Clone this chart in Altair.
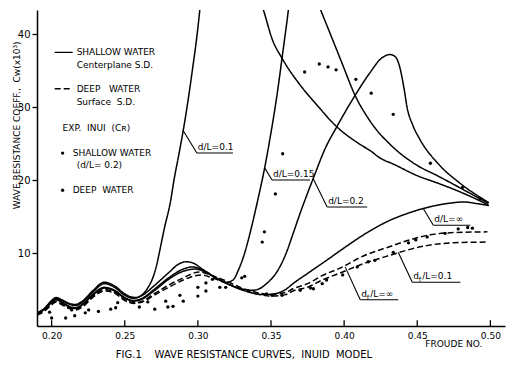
import altair as alt
import pandas as pd

NB = "\u00a0"

# ---------------- data ----------------
x_ticks = [0.20, 0.25, 0.30, 0.35, 0.40, 0.45, 0.50]
y_ticks = [10, 20, 30, 40]

# common low-Froude part (humps 1 and 2)
lowF = [0.19, 0.195, 0.200, 0.203, 0.207, 0.212, 0.216, 0.221, 0.228, 0.236, 0.243, 0.250]

# Shallow water, centerplane S.D. (solid)
dl01_F = lowF + [0.254, 0.258, 0.262, 0.266, 0.269, 0.272, 0.274, 0.277, 0.2815, 0.2835, 0.287, 0.290, 0.2955, 0.3014, 0.303]
dl01_v = [1.8, 2.4, 3.5, 3.9, 3.6, 3.1, 2.95, 3.4, 4.8, 6.0, 5.5, 4.4] + \
         [4.0, 3.9, 4.3, 5.3, 6.5, 8.5, 10.4, 13.3, 17.3, 19.8, 23.5, 26.8, 34.0, 43.5, 47.0]

dl015_F = lowF + [0.256, 0.262, 0.270, 0.280, 0.287, 0.292, 0.297, 0.303, 0.310, 0.316, 0.320, 0.324, 0.328,
                  0.332, 0.336, 0.341, 0.345, 0.350, 0.354, 0.358, 0.362, 0.364]
dl015_v = [1.8, 2.35, 3.4, 3.8, 3.5, 3.0, 2.8, 3.25, 4.6, 5.8, 5.3, 4.2] + \
          [3.8, 4.2, 5.5, 7.3, 8.5, 8.8, 8.6, 7.8, 6.9, 6.2, 6.0, 6.3, 7.8,
           10.0, 13.0, 17.3, 21.0, 26.5, 31.5, 37.4, 43.5, 47.0]

dl02_F = lowF + [0.256, 0.262, 0.270, 0.280, 0.290, 0.296, 0.302, 0.310, 0.318, 0.325, 0.332, 0.338, 0.342,
                 0.348, 0.354, 0.360, 0.365, 0.370, 0.375, 0.380, 0.387, 0.395, 0.4075, 0.418, 0.425, 0.4315,
                 0.435, 0.438, 0.441, 0.443, 0.447, 0.452, 0.464, 0.479, 0.499]
dl02_v = [1.7, 2.3, 3.3, 3.7, 3.3, 2.7, 2.5, 3.0, 4.3, 5.3, 4.9, 3.9] + \
         [3.5, 3.8, 5.0, 6.6, 7.8, 8.1, 7.8, 6.9, 6.0, 5.4, 5.0, 4.9, 5.1,
          6.0, 7.4, 9.8, 12.6, 15.5, 18.2, 20.8, 24.3, 27.3, 31.6, 34.8, 36.6, 37.2,
          36.9, 35.5, 32.5, 30.0, 27.5, 25.5, 22.3, 19.6, 16.9]

dlinf_F = lowF + [0.256, 0.262, 0.270, 0.280, 0.290, 0.298, 0.305, 0.312, 0.320, 0.328, 0.336, 0.344, 0.352,
                  0.360, 0.365, 0.375, 0.388, 0.400, 0.411, 0.420, 0.4315, 0.443, 0.454, 0.465, 0.475,
                  0.4815, 0.490, 0.499]
dlinf_v = [1.7, 2.25, 3.2, 3.6, 3.2, 2.6, 2.4, 2.9, 4.2, 5.2, 4.8, 3.8] + \
          [3.4, 3.7, 4.8, 6.4, 7.5, 7.8, 7.4, 6.6, 5.8, 5.1, 4.6, 4.3, 4.4,
           5.0, 5.8, 7.2, 9.0, 10.7, 12.2, 13.3, 14.5, 15.4, 16.1, 16.6, 16.9,
           17.0, 16.8, 16.5]

# supercritical branches (coming down from the top)
brA_F = [0.340, 0.3445, 0.351, 0.3575, 0.370, 0.380, 0.395, 0.410, 0.418, 0.4247, 0.4335, 0.450, 0.4637, 0.479, 0.4986]
brA_v = [46.0, 43.5, 39.2, 36.7, 33.0, 30.6, 27.3, 25.0, 24.0, 23.0, 22.2, 20.6, 19.6, 18.4, 16.6]

brB_F = [0.379, 0.3836, 0.390, 0.398, 0.4075, 0.418, 0.4335, 0.450, 0.4637, 0.485, 0.4986]
brB_v = [46.0, 43.5, 40.3, 36.3, 31.6, 28.0, 24.5, 22.0, 20.6, 18.3, 16.8]

# Deep water, surface S.D. (dashed)
dfinf_F = lowF + [0.256, 0.262, 0.270, 0.280, 0.290, 0.301, 0.310, 0.320, 0.330, 0.340, 0.350, 0.360, 0.365,
                  0.375, 0.385, 0.399, 0.410, 0.4315, 0.445, 0.459, 0.475, 0.498]
dfinf_v = [1.6, 2.1, 3.0, 3.4, 3.0, 2.5, 2.3, 2.7, 4.0, 5.0, 4.6, 3.6] + \
          [3.2, 3.4, 4.4, 5.6, 6.6, 7.4, 6.9, 6.1, 5.2, 4.6, 4.3, 4.6, 5.1,
           5.8, 6.9, 8.1, 9.3, 10.9, 11.8, 12.5, 12.8, 12.9]

df01_F = lowF + [0.256, 0.262, 0.270, 0.280, 0.290, 0.302, 0.310, 0.320, 0.330, 0.340, 0.350, 0.360, 0.365,
                 0.375, 0.385, 0.399, 0.410, 0.4315, 0.445, 0.459, 0.475, 0.498]
df01_v = [1.5, 2.0, 2.9, 3.3, 2.9, 2.4, 2.2, 2.6, 3.9, 4.8, 4.5, 3.5] + \
         [3.1, 3.3, 4.2, 5.3, 6.3, 7.0, 6.6, 5.8, 5.0, 4.4, 4.1, 4.3, 4.8,
          5.3, 6.3, 7.4, 8.3, 9.7, 10.5, 11.1, 11.4, 11.5]

# Experiments (Inui)
shallow_F = [0.330, 0.332, 0.344, 0.3455, 0.353, 0.358, 0.373, 0.383, 0.389, 0.3945, 0.408, 0.4185,
             0.4336, 0.459, 0.481, 0.493]
shallow_v = [6.6, 6.8, 11.5, 12.9, 18.1, 23.6, 34.8, 35.9, 35.5, 35.1, 33.8, 31.9,
             29.0, 22.3, 19.0, 17.4]

deep_F = [0.1986, 0.200, 0.2096, 0.2137, 0.2158, 0.223, 0.2253, 0.232, 0.2404, 0.2438, 0.2452, 0.260,
          0.2658, 0.2705, 0.278, 0.2795, 0.283, 0.2877, 0.290, 0.300, 0.300, 0.3055, 0.3055, 0.310,
          0.315, 0.319, 0.347, 0.3507, 0.3575, 0.370, 0.377, 0.379, 0.385, 0.388, 0.399, 0.409,
          0.4165, 0.421, 0.4336, 0.444, 0.449, 0.4568, 0.469, 0.478, 0.4845, 0.4877]
deep_v = [1.9, 1.1, 1.1, 2.2, 1.4, 1.8, 2.2, 2.0, 2.3, 2.5, 3.2, 2.6,
          3.3, 2.3, 3.4, 2.6, 2.7, 4.2, 3.4, 5.3, 4.1, 5.9, 4.8, 6.4,
          5.3, 5.3, 4.4, 4.2, 4.2, 4.9, 5.2, 5.1, 5.8, 6.3, 7.0, 8.1,
          8.8, 9.0, 10.1, 11.4, 11.8, 12.2, 12.7, 13.3, 13.5, 13.4]

# curve labels (text position, leader line start -> elbow -> underline end)
lab_text = ["d/L=0.1", "d/L=0.15", "d/L=0.2", "d/L=\u221e"]
lab_F = [0.2993, 0.3507, 0.3884, 0.461]
lab_v = [23.7, 20.0, 16.3, 13.8]
lab_F0 = [0.2897, 0.3459, 0.3788, 0.4541]
lab_v0 = [26.85, 21.6, 20.2, 16.1]
lab_Fend = [0.324, 0.3767, 0.4158, 0.4863]

flab_text = ["/L=0.1", "/L=\u221e"]
flab_F = [0.4466, 0.411]
flab_v = [6.0, 3.6]
flab_F0 = [0.437, 0.4007]
flab_v0 = [10.1, 8.1]
flab_Fend = [0.4795, 0.437]

# legend
leg_text = ["SHALLOW" + NB + "WATER", "Centerplane S.D.", "DEEP" + NB * 3 + "WATER", "Surface" + NB * 2 + "S.D.",
            "EXP." + NB * 2 + "INUI" + NB * 2 + "(C\u0280)", "SHALLOW" + NB + "WATER",
            "(d/L=" + NB + "0.2)", "DEEP" + NB * 2 + "WATER"]
leg_F = [0.2171, 0.2171, 0.2171, 0.2171, 0.2075, 0.2144, 0.2171, 0.2144]
leg_v = [37.5, 35.75, 32.5, 30.7, 27.1, 23.7, 22.05, 18.6]
leg_line_kind = ["solid", "dashed"]
leg_line_v = [37.5, 32.5]
leg_dot_v = [23.7, 18.6]

# ---------------- build tables ----------------
def curve(name, kind, F, v):
    return pd.DataFrame({"F": F, "v": v, "series": name, "kind": kind, "order": range(len(F))})

lines = pd.concat([
    curve("dl01", "solid", dl01_F, dl01_v),
    curve("dl015", "solid", dl015_F, dl015_v),
    curve("dl02", "solid", dl02_F, dl02_v),
    curve("dlinf", "solid", dlinf_F, dlinf_v),
    curve("brA", "solid", brA_F, brA_v),
    curve("brB", "solid", brB_F, brB_v),
    curve("dfinf", "dashed", dfinf_F, dfinf_v),
    curve("df01", "dashed", df01_F, df01_v),
], ignore_index=True)

pts = pd.concat([
    pd.DataFrame({"F": shallow_F, "v": shallow_v, "set": "shallow"}),
    pd.DataFrame({"F": deep_F, "v": deep_v, "set": "deep"}),
], ignore_index=True)

FONT = "DejaVu Sans"
xs = alt.Scale(domain=[0.19, 0.51], nice=False, zero=False)
ys = alt.Scale(domain=[0, 43.3], nice=False)

base_x = alt.X("F:Q", scale=xs,
               axis=alt.Axis(values=x_ticks, format=".2f", title=None, ticks=False,
                             labelPadding=5, labelFontSize=9, labelFont=FONT, labelColor="black",
                             domainColor="black", domainWidth=1.5, grid=False))
base_y = alt.Y("v:Q", scale=ys,
               axis=alt.Axis(values=y_ticks, format="d", title=None, tickSize=5, tickColor="black",
                             tickWidth=1.3, labelPadding=2, labelFontSize=10, labelFont=FONT,
                             labelColor="black", domainColor="black", domainWidth=1.5, grid=False))

curves = alt.Chart(lines).mark_line(clip=True, interpolate="monotone", color="black", strokeWidth=1.5).encode(
    x=base_x, y=base_y,
    detail="series:N",
    order="order:Q",
    strokeDash=alt.StrokeDash("kind:N", scale=alt.Scale(domain=["solid", "dashed"], range=[[1, 0], [6, 3]]),
                              legend=None),
)

points = alt.Chart(pts).mark_circle(size=11, color="black", opacity=1, clip=True).encode(
    x=alt.X("F:Q", scale=xs), y=alt.Y("v:Q", scale=ys))

tick_df = pd.DataFrame({"F": x_ticks, "y0": [0] * len(x_ticks), "y1": [0.8] * len(x_ticks)})
xtick_marks = alt.Chart(tick_df).mark_rule(color="black", strokeWidth=1.3).encode(
    x=alt.X("F:Q", scale=xs), y=alt.Y("y0:Q", scale=ys), y2="y1:Q")

# curve labels
lab_df = pd.DataFrame({"F0": lab_F0, "v0": lab_v0, "F": lab_F, "v": lab_v, "Fe": lab_Fend, "text": lab_text})
flab_df = pd.DataFrame({"F0": flab_F0, "v0": flab_v0, "F": flab_F, "v": flab_v, "Fe": flab_Fend, "text": flab_text})
all_lab = pd.concat([lab_df, flab_df], ignore_index=True)

leader = alt.Chart(all_lab).mark_rule(color="black", strokeWidth=1.1).encode(
    x=alt.X("F0:Q", scale=xs), y=alt.Y("v0:Q", scale=ys), x2="F:Q", y2="v:Q")
underline = alt.Chart(all_lab).mark_rule(color="black", strokeWidth=1.1).encode(
    x=alt.X("F:Q", scale=xs), y=alt.Y("v:Q", scale=ys), x2="Fe:Q")
lab_txt = alt.Chart(lab_df).mark_text(align="left", baseline="bottom", dx=1, dy=-1, font=FONT,
                                      fontSize=9, color="black").encode(
    x=alt.X("F:Q", scale=xs), y=alt.Y("v:Q", scale=ys), text="text:N")
flab_d = alt.Chart(flab_df).mark_text(align="left", baseline="bottom", dx=1, dy=-1, font=FONT,
                                      fontSize=9, color="black", text="d").encode(
    x=alt.X("F:Q", scale=xs), y=alt.Y("v:Q", scale=ys))
flab_f = alt.Chart(flab_df).mark_text(align="left", baseline="bottom", dx=6.5, dy=1, font=FONT,
                                      fontSize=7, color="black", text="f").encode(
    x=alt.X("F:Q", scale=xs), y=alt.Y("v:Q", scale=ys))
flab_rest = alt.Chart(flab_df).mark_text(align="left", baseline="bottom", dx=10, dy=-1, font=FONT,
                                         fontSize=9, color="black").encode(
    x=alt.X("F:Q", scale=xs), y=alt.Y("v:Q", scale=ys), text="text:N")

# legend block
leg_df = pd.DataFrame({"F": leg_F, "v": leg_v, "text": leg_text})
leg_txt = alt.Chart(leg_df).mark_text(align="left", baseline="middle", font=FONT, fontSize=9,
                                      color="black").encode(
    x=alt.X("F:Q", scale=xs), y=alt.Y("v:Q", scale=ys), text="text:N")
leg_lines_df = pd.DataFrame({"F": [0.2021, 0.2021], "F2": [0.2144, 0.2144], "v": leg_line_v, "kind": leg_line_kind})
leg_lines = alt.Chart(leg_lines_df).mark_rule(color="black", strokeWidth=1.4).encode(
    x=alt.X("F:Q", scale=xs), x2="F2:Q", y=alt.Y("v:Q", scale=ys),
    strokeDash=alt.StrokeDash("kind:N", scale=alt.Scale(domain=["solid", "dashed"], range=[[1, 0], [4, 2.5]]),
                              legend=None))
leg_dots_df = pd.DataFrame({"F": [0.2075, 0.2075], "v": leg_dot_v})
leg_dots = alt.Chart(leg_dots_df).mark_circle(size=11, color="black", opacity=1).encode(
    x=alt.X("F:Q", scale=xs), y=alt.Y("v:Q", scale=ys))

# titles and caption as text
titles_df = pd.DataFrame({
    "F": [0.475, 0.3315],
    "v": [-2.4, -3.95],
    "size": [9, 10],
    "text": ["FROUDE" + NB + "NO.",
             "FIG.1" + NB * 4 + "WAVE" + NB + "RESISTANCE" + NB + "CURVES," + NB * 2 + "INUID" + NB * 2 + "MODEL"],
})
titles = alt.Chart(titles_df).mark_text(align="center", baseline="middle", font=FONT,
                                        color="black").encode(
    x=alt.X("F:Q", scale=xs), y=alt.Y("v:Q", scale=ys), text="text:N",
    size=alt.Size("size:Q", scale=None, legend=None))
ytitle_df = pd.DataFrame({"F": [0.176], "v": [27.5],
                          "text": ["WAVE" + NB + "RESISTANCE" + NB + "COEFF.," + NB * 2 + "C\u1d21(x10\u00b3)"]})
ytitle = alt.Chart(ytitle_df).mark_text(align="center", baseline="middle", angle=270, font=FONT,
                                        fontSize=9, color="black").encode(
    x=alt.X("F:Q", scale=xs), y=alt.Y("v:Q", scale=ys), text="text:N")

chart = alt.layer(
    curves, points, xtick_marks, leader, underline, lab_txt, flab_d, flab_f, flab_rest,
    leg_txt, leg_lines, leg_dots, titles, ytitle,
).properties(
    width=468, height=316,
    autosize=alt.AutoSizeParams(type="none"),
    padding={"left": 29, "top": 2, "right": 7, "bottom": 37},
    background="white",
).configure_view(stroke=None)

chart.save("out.html", embed_options={"renderer": "svg", "actions": False})
